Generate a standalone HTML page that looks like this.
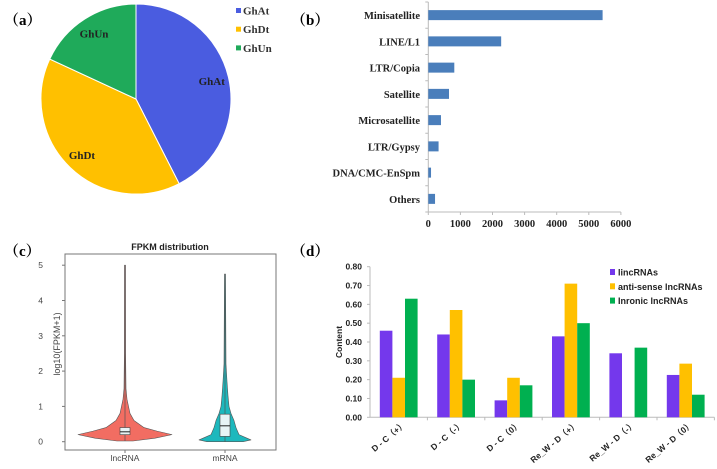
<!DOCTYPE html>
<html><head><meta charset="utf-8">
<style>
html,body{margin:0;padding:0;background:#fff;}
svg{display:block;}
.serif{font-family:"Liberation Serif","Noto Serif CJK SC",serif;font-weight:bold;}
.sans{font-family:"Liberation Sans","Noto Sans CJK SC",sans-serif;}
</style></head>
<body>
<svg id="fig" width="717" height="469" viewBox="0 0 717 469" xmlns="http://www.w3.org/2000/svg">
  <text class="serif" x="4" y="25" font-size="15">（a）</text>
  <text class="serif" x="291" y="25" font-size="15">（b）</text>
  <text class="serif" x="4" y="256" font-size="15">（c）</text>
  <text class="serif" x="291" y="256" font-size="15">（d）</text>
  <g id="pieG"></g>
  <g id="barG"></g>
  <g id="violG"></g>
  <g id="grpG"></g>
</svg>
<script>
// ---- Panel a: pie ----
const pieLabels = ["GhAt","GhDt","GhUn"];
const pieValues = [42.5, 39.4, 18.1];
// ---- Panel b: horizontal bars ----
const repCats = ["Minisatellite","LINE/L1","LTR/Copia","Satellite","Microsatellite","LTR/Gypsy","DNA/CMC-EnSpm","Others"];
const repValues = [5430, 2270, 810, 645, 395, 320, 85, 210];
const repTicks = [0,1000,2000,3000,4000,5000,6000];
// ---- Panel c: violins ----
const violCats = ["lncRNA","mRNA"];
const violTicks = [0,1,2,3,4,5];
const lncY = [0.02,0.1,0.2,0.3,0.4,0.6,0.8,1.0,1.2,1.5,2.5,5.0];
const lncW = [8,30,47,32,19,9,5,3.5,2,1,0.6,0.5];
const mrnaY = [0.0,0.05,0.1,0.2,0.4,0.6,0.8,1.0,1.3,1.7,2.2,4.75];
const mrnaW = [18,26,22,14,11,9,6,4,3,2,1,0.5];
const boxQ1 = [0.2,0.15], boxMed = [0.28,0.45], boxQ3 = [0.4,0.78];
// ---- Panel d: grouped bars ----
const grpCats = ["D - C（+）","D - C（-）","D - C（0）","Re_W - D（+）","Re_W - D（-）","Re_W - D（0）"];
const seriesNames = ["lincRNAs","anti-sense lncRNAs","Inronic lncRNAs"];
const lincVals = [0.46,0.44,0.09,0.43,0.34,0.225];
const antiVals = [0.21,0.57,0.21,0.71,0,0.285];
const intrVals = [0.63,0.20,0.17,0.50,0.37,0.12];
const grpTicks = [0,0.1,0.2,0.3,0.4,0.5,0.6,0.7,0.8];

const NS="http://www.w3.org/2000/svg";
function mk(parent,tag,attrs,text){const e=document.createElementNS(NS,tag);for(const k in attrs)e.setAttribute(k,attrs[k]);if(text!==undefined)e.textContent=text;parent.appendChild(e);return e;}

// Pie
(function(){
  const g=document.getElementById('pieG');
  const cx=136,cy=99,r=95, cols=["#4a5ce0","#ffc000","#1faa5a"];
  const tot=pieValues.reduce((a,b)=>a+b,0);
  let a0=0;
  pieValues.forEach((v,i)=>{
    const a1=a0+v/tot*2*Math.PI;
    const p=t=>[cx+r*Math.sin(t),cy-r*Math.cos(t)];
    const [x0,y0]=p(a0),[x1,y1]=p(a1);
    const large=(a1-a0)>Math.PI?1:0;
    const s=mk(g,'path',{d:`M${cx},${cy}L${x0},${y0}A${r},${r} 0 ${large} 1 ${x1},${y1}Z`,fill:cols[i],stroke:'#fff','stroke-width':1});
    
    
    const am=(a0+a1)/2, lr=r*0.82;
    const t=mk(g,'text',{x:cx+lr*Math.sin(am),y:cy-lr*Math.cos(am)+4,'text-anchor':'middle','font-size':11,class:'serif',fill:'#222'},pieLabels[i]);
    
    
    const ly=11+i*18.7;
    const lg=mk(g,'g',{});
    
    
    mk(lg,'rect',{x:236,y:ly-3,width:5,height:5,fill:cols[i]});
    mk(lg,'text',{x:243,y:ly+3.5,'font-size':11,class:'serif',fill:'#333'},pieLabels[i]);
    a0=a1;
  });
})();

// Horizontal bars
(function(){
  const g=document.getElementById('barG');
  const x0=428.3, per=32.1/1000, top=2, bottom=212, band=(bottom-top)/repCats.length;
  const X=v=>x0+v*per;
  mk(g,'line',{x1:x0,y1:top,x2:x0,y2:bottom,stroke:'#bbb'});
  mk(g,'line',{x1:x0,y1:bottom,x2:X(6000),y2:bottom,stroke:'#bbb'});
  for(let i=0;i<=repCats.length;i++){mk(g,'line',{x1:x0-3,y1:top+i*band,x2:x0,y2:top+i*band,stroke:'#bbb'});}
  repTicks.forEach(t=>{
    mk(g,'line',{x1:X(t),y1:bottom,x2:X(t),y2:bottom+3,stroke:'#bbb'});
    const e=mk(g,'text',{x:X(t),y:bottom+15,'text-anchor':'middle','font-size':10.5,class:'serif',fill:'#222'},t);
    
    
  });
  repCats.forEach((c,i)=>{
    const cy=top+band*(i+0.5);
    const b=mk(g,'rect',{x:x0,y:cy-5,width:X(repValues[i])-x0,height:10,fill:'#4a7ebb'});
    
    
    const t=mk(g,'text',{x:420,y:cy+4,'text-anchor':'end','font-size':10.5,class:'serif',fill:'#222'},c);
    
    
  });
})();

// Violins
(function(){
  const g=document.getElementById('violG');
  const L=65,R=276,T=254,B=450, y0=441.7, per=35.3;
  const Y=v=>y0-v*per;
  mk(g,'rect',{x:L,y:T,width:R-L,height:B-T,fill:'#fff',stroke:'#777','stroke-width':1});
  const title=mk(g,'text',{x:170,y:250,'text-anchor':'middle','font-size':9,'font-weight':'bold',class:'sans',fill:'#222'},'FPKM distribution');
  
  
  violTicks.forEach(t=>{
    mk(g,'line',{x1:L-3,y1:Y(t),x2:L,y2:Y(t),stroke:'#777'});
    const e=mk(g,'text',{x:43,y:Y(t)+3,'text-anchor':'end','font-size':8.5,class:'sans',fill:'#444'},t);
    
    
  });
  const yl=mk(g,'text',{x:0,y:0,transform:`translate(60,${(T+B)/2-8}) rotate(-90)`,'text-anchor':'middle','font-size':9,class:'sans',fill:'#444'},'log10(FPKM+1)');
  
  
  const centers=[125,225], fills=['#f26d62','#1db8bd'];
  const profiles=[[lncY,lncW],[mrnaY,mrnaW]];
  centers.forEach((cx,i)=>{
    const [ys,ws]=profiles[i];
    let d='M'+(cx+ws[0])+','+Y(ys[0]);
    for(let k=1;k<ys.length;k++) d+='L'+(cx+ws[k])+','+Y(ys[k]);
    for(let k=ys.length-1;k>=0;k--) d+='L'+(cx-ws[k])+','+Y(ys[k]);
    d+='Z';
    const v=mk(g,'path',{d:d,fill:fills[i],stroke:'#555','stroke-width':0.6,'stroke-linejoin':'round'});
    
    
    mk(g,'line',{x1:cx,y1:Y(ys[0]),x2:cx,y2:Y(ys[ys.length-1]),stroke:'#555','stroke-width':0.7});
    const bx=mk(g,'rect',{x:cx-5,y:Y(boxQ3[i]),width:10,height:Y(boxQ1[i])-Y(boxQ3[i]),fill:'#e8f4f6',stroke:'#444','stroke-width':0.6});
    
    
    mk(g,'line',{x1:cx-5,y1:Y(boxMed[i]),x2:cx+5,y2:Y(boxMed[i]),stroke:'#222','stroke-width':1});
    mk(g,'line',{x1:cx,y1:B,x2:cx,y2:B+3,stroke:'#777'});
    const t=mk(g,'text',{x:cx,y:B+11,'text-anchor':'middle','font-size':8.5,class:'sans',fill:'#444'},violCats[i]);
    
    
  });
})();

// Grouped bars
(function(){
  const g=document.getElementById('grpG');
  const x0=370, y0=417.3, per=(417.3-266.7)/0.8, gw=57.4, bw=12.6;
  const Y=v=>y0-v*per;
  const cols=['#7438ec','#ffc000','#00b050'];
  const series=[lincVals,antiVals,intrVals];
  mk(g,'line',{x1:x0,y1:Y(0.8),x2:x0,y2:y0,stroke:'#bbb'});
  mk(g,'line',{x1:x0,y1:y0,x2:x0+gw*6,y2:y0,stroke:'#bbb'});
  grpTicks.forEach(t=>{
    mk(g,'line',{x1:x0-3,y1:Y(t),x2:x0,y2:Y(t),stroke:'#bbb'});
    const e=mk(g,'text',{x:362,y:Y(t)+3,'text-anchor':'end','font-size':8.5,'font-weight':'bold',class:'sans',fill:'#222'},t.toFixed(2));
    
    
  });
  const yl=mk(g,'text',{x:0,y:0,transform:`translate(342,${Y(0.4)}) rotate(-90)`,'text-anchor':'middle','font-size':8.5,'font-weight':'bold',class:'sans',fill:'#222'},'Content');
  
  
  grpCats.forEach((c,i)=>{
    const gx=x0+gw*i+(gw-3*bw)/2;
    mk(g,'line',{x1:x0+gw*(i+1),y1:y0,x2:x0+gw*(i+1),y2:y0+3,stroke:'#bbb'});
    series.forEach((s,j)=>{
      if(s[i]<=0) return;
      const b=mk(g,'rect',{x:gx+j*bw,y:Y(s[i]),width:bw,height:y0-Y(s[i]),fill:cols[j]});
      
      
    });
    const cx=x0+gw*(i+0.5)+8;
    const t=mk(g,'text',{x:0,y:0,transform:`translate(${cx},${y0+8}) rotate(-40)`,'text-anchor':'end','font-size':8.5,'font-weight':'bold',class:'sans',fill:'#222'},c);
    
    
  });
  seriesNames.forEach((n,j)=>{
    const ly=272+j*14.3;
    const lg=mk(g,'g',{});
    
    
    mk(lg,'rect',{x:610,y:ly-3,width:5,height:6,fill:cols[j]});
    mk(lg,'text',{x:618,y:ly+3.5,'font-size':9,'font-weight':'bold',class:'sans',fill:'#222'},n);
  });
})();
</script>
</body></html>
